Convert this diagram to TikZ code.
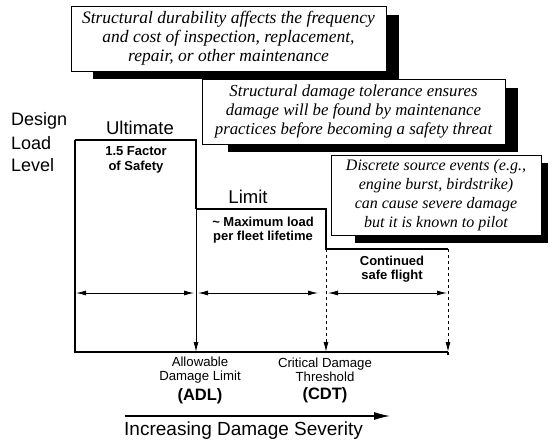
\documentclass[tikz,border=0pt]{standalone}
\usepackage{fontspec}
\setmainfont{Liberation Serif}
\setsansfont{Liberation Sans}
\usetikzlibrary{arrows.meta}
\tikzset{
  note/.style={draw=black, line width=0.9pt, fill=white, inner sep=0pt, align=center, font=\itshape},
  shadowbox/.style={fill=black},
  big/.style={font=\sffamily\fontsize{18.5}{20}\selectfont, inner sep=0pt},
  side/.style={font=\sffamily\fontsize{18}{20}\selectfont, inner sep=0pt},
  small/.style={font=\sffamily\bfseries\fontsize{13}{14.5}\selectfont, inner sep=0pt, align=center},
  lab/.style={font=\sffamily\fontsize{13.2}{14}\selectfont, inner sep=0pt, align=center},
  labb/.style={font=\sffamily\bfseries\fontsize{16.5}{18}\selectfont, inner sep=0pt},
  chart/.style={line width=1.2pt},
  dim/.style={line width=0.9pt, {Latex[length=10pt,width=5pt]}-{Latex[length=10pt,width=5pt]}},
  down/.style={line width=1pt, -{Latex[length=10pt,width=5pt]}},
}
\begin{document}
\begin{tikzpicture}[x=1pt,y=-1pt]
\useasboundingbox (0,0) rectangle (552,444);
% shadows
\fill[shadowbox] (93,15) rectangle (399,79);
\fill[shadowbox] (228,88) rectangle (518,152);
\fill[shadowbox] (355,163) rectangle (548,243);
% note boxes
\node[note, minimum width=315pt, minimum height=65pt, font=\itshape\fontsize{17.5}{19}\selectfont] (dur) at (228.5,38.5)
  {Structural durability affects the frequency\\and cost of inspection, replacement,\\repair, or other maintenance};
\node[note, minimum width=303pt, minimum height=65pt, font=\itshape\fontsize{16.8}{19}\selectfont] (tol) at (353.5,111.5)
  {Structural damage tolerance ensures\\damage will be found by maintenance\\practices before becoming a safety threat};
\node[note, minimum width=210pt, minimum height=80pt, font=\itshape\fontsize{16}{18.8}\selectfont] (dse) at (436,195)
  {Discrete source events (e.g.,\\engine burst, birdstrike)\\can cause severe damage\\but it is known to pilot};
% axis labels
\node[side, anchor=west] (design) at (11,121) {Design};
\node[side, anchor=west] (load) at (11,143) {Load};
\node[side, anchor=west] (level) at (11,165) {Level};
\node[big] (ult) at (140,128) {Ultimate};
\node[big] (lim) at (248,197) {Limit};
% chart coordinates
\coordinate (o) at (75,352);
\coordinate (top) at (75,140);
\coordinate (ur) at (196,140);
\coordinate (adl) at (196,352);
\coordinate (l1) at (196,209);
\coordinate (l2) at (326,209);
\coordinate (l3) at (326,249);
\coordinate (cdt) at (326,352);
\coordinate (s2) at (448,249);
\coordinate (end) at (448,352);
% chart
\draw[chart] (top) -- (o) -- (end);
\draw[chart] (end) -- ++(0,3);
\draw[chart] (top) -- (ur) -- (l1);
\draw[down] (l1) -- (adl);
\draw[chart] (l1) -- (l2) -- (l3) -- (s2);
\draw[down, dashed] (l3) -- (cdt);
\draw[down, dashed] (s2) -- (end);
% dimension arrows
\coordinate (d0) at (76,293);
\coordinate (d1) at (194,293);
\coordinate (d2) at (198,293);
\coordinate (d3) at (318,293);
\coordinate (d4) at (328,293);
\coordinate (d5) at (447,293);
\draw[dim] (d0) -- (d1);
\draw[dim] (d2) -- (d3);
\draw[dim] (d4) -- (d5);
% interior labels
\node[small] (fos) at (136,160) {1.5 Factor\\of Safety};
\node[small] (mxl) at (263,230) {\textasciitilde{} Maximum load\\per fleet lifetime};
\node[small] (csf) at (392,269) {Continued\\safe flight};
% bottom labels
\node[lab] (adlt) at (200,370) {Allowable\\Damage Limit};
\node[labb] (adla) at (200,396) {(ADL)};
\node[lab] (cdtt) at (325,370) {Critical Damage\\Threshold};
\node[labb] (cdta) at (325,395) {(CDT)};
% severity arrow
\node[side, anchor=west, font=\sffamily\fontsize{19}{20}\selectfont] (sev) at (124,431) {Increasing Damage Severity};
\coordinate (a0) at (125,416);
\coordinate (a1) at (390,416);
\draw[line width=1.1pt, -{Latex[length=16pt,width=8pt]}] (a0) -- (a1);
\end{tikzpicture}
\end{document}
